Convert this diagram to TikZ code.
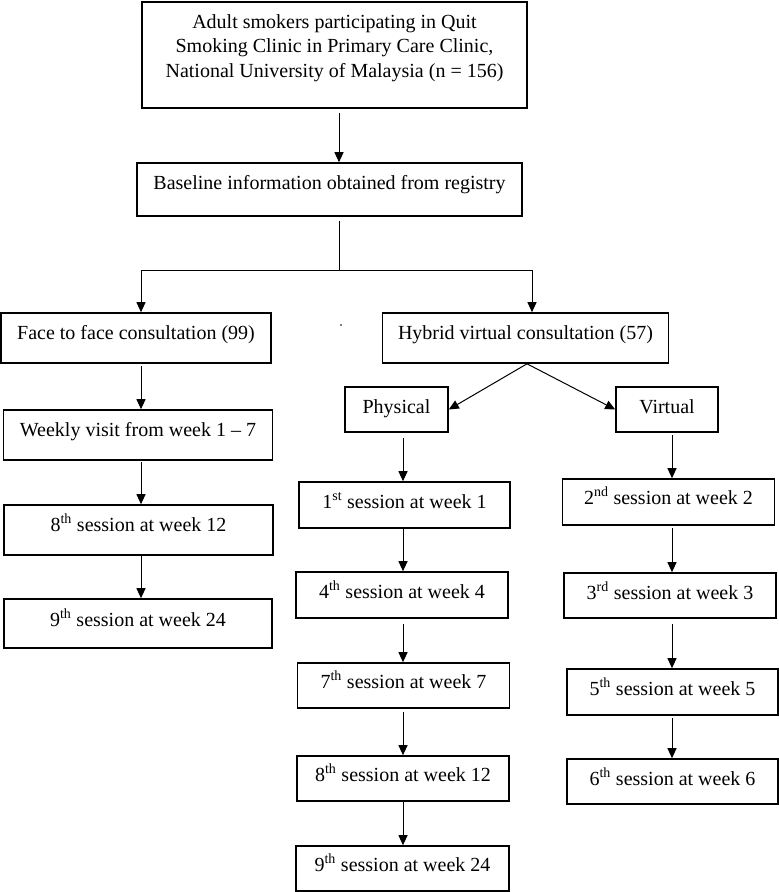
\documentclass[tikz,border=0pt]{standalone}
\usepackage{fontspec}
\setmainfont{Liberation Serif}
\usetikzlibrary{arrows.meta}

\tikzset{
  box/.style={draw, line width=1.6pt, inner sep=0pt, anchor=base},
  hd/.style 2 args={text height=#1, text depth=#2},
  arr/.style={-{Triangle[length=10pt,width=9pt]}, line width=1pt},
}

\begin{document}
\begin{tikzpicture}[x=1pt, y=-1pt, font=\fontsize{20}{24.5}\selectfont]
        \useasboundingbox (0,0) rectangle (779,892);

        % top of the chart
        \node[box, minimum width=385, hd={26pt}{80pt}] (smokers) at (334.5,28)
          {\parbox[t]{380pt}{\centering Adult smokers participating in Quit\\
           Smoking Clinic in Primary Care Clinic,\\
           National University of Malaysia (n = 156)}};
        \node[box, minimum width=385, hd={26pt}{27pt}] (baseline) at (329.5,189)
          {Baseline information obtained from registry};

        % two arms
        \node[box, minimum width=269.5, hd={26pt}{24pt}] (face) at (136,339)
          {Face to face consultation (99)};
        \node[box, minimum width=286, hd={26pt}{24pt}] (hybrid) at (525.5,339)
          {Hybrid virtual consultation (57)};
        \fill (341,325) circle (0.9);

        % face to face arm
        \node[box, minimum width=269, hd={26pt}{24pt}] (weekly) at (138,436)
          {Weekly visit from week 1 -- 7};
        \node[box, minimum width=269.5, hd={26pt}{24pt}] (ftwelve) at (138.5,531)
          {8\textsuperscript{th} session at week 12};
        \node[box, minimum width=268, hd={27pt}{22pt}] (ftwentyfour) at (138,626)
          {9\textsuperscript{th} session at week 24};

        % hybrid arm
        \node[box, minimum width=103, hd={26pt}{19pt}] (physical) at (396.5,413)
          {Physical};
        \node[box, minimum width=102, hd={26pt}{19pt}] (virtual) at (667,413)
          {Virtual};

        \node[box, minimum width=211.5, hd={26pt}{20pt}] (pone) at (404.5,508)
          {1\textsuperscript{st} session at week 1};
        \node[box, minimum width=212, hd={26pt}{20pt}] (pfour) at (402,598)
          {4\textsuperscript{th} session at week 4};
        \node[box, minimum width=212, hd={25pt}{20pt}] (pseven) at (403.5,688)
          {7\textsuperscript{th} session at week 7};
        \node[box, minimum width=212, hd={25pt}{20pt}] (ptwelve) at (403,781)
          {8\textsuperscript{th} session at week 12};
        \node[box, minimum width=213, hd={25pt}{20pt}] (ptwentyfour) at (402.5,871)
          {9\textsuperscript{th} session at week 24};

        \node[box, minimum width=212, hd={25pt}{21pt}] (vtwo) at (668.5,504)
          {2\textsuperscript{nd} session at week 2};
        \node[box, minimum width=212, hd={26pt}{19pt}] (vthree) at (670,599)
          {3\textsuperscript{rd} session at week 3};
        \node[box, minimum width=211, hd={26pt}{20pt}] (vfive) at (672.5,695)
          {5\textsuperscript{th} session at week 5};
        \node[box, minimum width=211, hd={26pt}{19pt}] (vsix) at (672.5,785)
          {6\textsuperscript{th} session at week 6};

        % columns of the arrows
        \coordinate (colA) at (141,0);
        \coordinate (colM) at (339,0);
        \coordinate (colP) at (403,0);
        \coordinate (colV) at (672,0);
        \coordinate (jL) at (141,270);
        \coordinate (jM) at (339,270);
        \coordinate (jR) at (532,270);

        % connectors
        \draw[arr, shorten <=4pt] (smokers.south -| colM) -- (baseline.north -| colM);
        \draw[line width=1pt, shorten <=4pt] (baseline.south -| colM) -- (jM);
        \draw[line width=1pt] (jL) -- (jR);
        \draw[arr] (jL) -- (face.north -| jL);
        \draw[arr] (jR) -- (hybrid.north -| jR);

        \draw[arr, shorten <=2pt] (face.south -| colA) -- (weekly.north -| colA);
        \draw[arr, shorten <=1pt] (weekly.south -| colA) -- (ftwelve.north -| colA);
        \draw[arr] (ftwelve.south -| colA) -- (ftwentyfour.north -| colA);

        \draw[arr] ([xshift=1.5pt]hybrid.south) -- (physical.east);
        \draw[arr] ([xshift=1.5pt]hybrid.south) -- (virtual.west);

        \draw[arr, shorten <=5pt] (physical.south -| colP) -- (pone.north -| colP);
        \draw[arr] (pone.south -| colP) -- (pfour.north -| colP);
        \draw[arr, shorten <=5pt] (pfour.south -| colP) -- (pseven.north -| colP);
        \draw[arr, shorten <=3pt] (pseven.south -| colP) -- (ptwelve.north -| colP);
        \draw[arr] (ptwelve.south -| colP) -- (ptwentyfour.north -| colP);

        \draw[arr, shorten <=2pt] (virtual.south -| colV) -- (vtwo.north -| colV);
        \draw[arr, shorten <=2pt] (vtwo.south -| colV) -- (vthree.north -| colV);
        \draw[arr, shorten <=5pt] (vthree.south -| colV) -- (vfive.north -| colV);
        \draw[arr, shorten <=2pt] (vfive.south -| colV) -- (vsix.north -| colV);

    \end{tikzpicture}
\end{document}
